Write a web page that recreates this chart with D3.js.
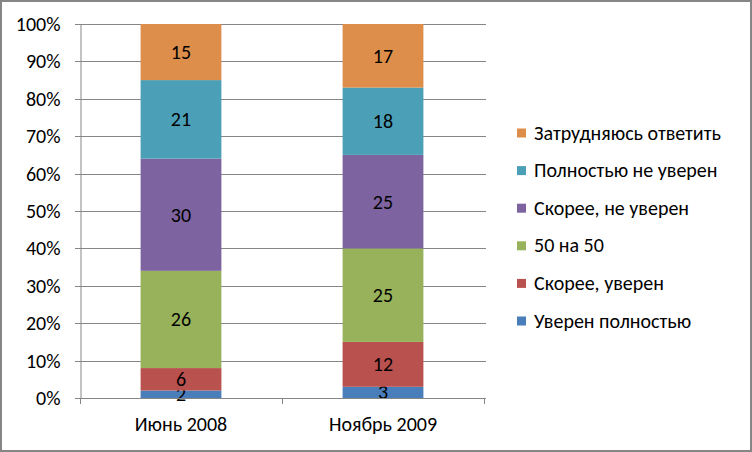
<!DOCTYPE html>
<html>
<head>
<meta charset="utf-8">
<script src="https://cdn.jsdelivr.net/npm/d3@7"></script>
<style>
  body { margin: 0; background: #fff; }
  svg text { font-family: Carlito, "Open Sans", "Liberation Sans", sans-serif; fill: #000; }
</style>
</head>
<body>
<svg id="chart" width="752" height="452"></svg>
<script>
const periods = ['Июнь 2008', 'Ноябрь 2009']
const seriesNames = ['Уверен полностью', 'Скорее, уверен', '50 на 50', 'Скорее, не уверен', 'Полностью не уверен', 'Затрудняюсь ответить']
const june2008 = [2, 6, 26, 30, 21, 15]
const nov2009 = [3, 12, 25, 25, 18, 17]
const yTicks = [0, 0.1, 0.2, 0.3, 0.4, 0.5, 0.6, 0.7, 0.8, 0.9, 1]
const colors = ['#4a7ebb', '#b9514f', '#97b25a', '#7d64a0', '#4ba0b7', '#dd8e4a']

const fontSize = 20

const svg = d3.select('#chart')

svg.append('rect')
    .attr('x', 1).attr('y', 1)
    .attr('width', 750).attr('height', 450)
    .attr('fill', '#fff')
    .attr('stroke', '#868686')
    .attr('stroke-width', 2)

const plot = { left: 80, right: 484, top: 24, bottom: 398 }

const x = d3.scaleBand()
    .domain(periods)
    .range([plot.left, plot.right])
    .paddingInner(0.6)
    .paddingOuter(0.3)

const y = d3.scaleLinear().domain([0, 1]).range([plot.bottom, plot.top])

// gridlines
svg.append('g')
    .selectAll('line')
    .data(yTicks)
  .enter().append('line')
    .attr('x1', plot.left - 5)
    .attr('x2', plot.right + 2)
    .attr('y1', d => Math.round(y(d)) + 0.5)
    .attr('y2', d => Math.round(y(d)) + 0.5)
    .attr('stroke', '#868686')

const yAxis = d3.axisLeft(y).tickValues(yTicks).tickFormat(d3.format('.0%')).tickSize(0).tickPadding(20)
svg.append('g')
    .attr('transform', `translate(${plot.left + 0.5},0)`)
    .call(yAxis)
    .call(g => g.select('.domain').attr('stroke', '#868686'))
    .call(g => g.selectAll('text').attr('font-size', fontSize).attr('font-family', null))

const rows = periods.map((p, i) => {
  const vals = i === 0 ? june2008 : nov2009
  const total = d3.sum(vals)
  const row = { period: p }
  seriesNames.forEach((s, j) => { row[s] = vals[j] / total; row[s + '_raw'] = vals[j] })
  return row
})

const stacked = d3.stack().keys(seriesNames)(rows)

const layers = svg.append('g').selectAll('g')
    .data(stacked)
  .enter().append('g')
    .attr('fill', (d, i) => colors[i])

layers.selectAll('rect')
    .data(d => d.map(v => Object.assign(v, { key: d.key })))
  .enter().append('rect')
    .attr('x', d => x(d.data.period))
    .attr('width', x.bandwidth())
    .attr('y', d => y(d[1]))
    .attr('height', d => y(d[0]) - y(d[1]))

// x axis
const xEdge = d3.scaleLinear().domain([0, 2]).range([plot.left, plot.right])
svg.append('line')
    .attr('x1', plot.left).attr('x2', plot.right + 1)
    .attr('y1', plot.bottom + 0.5).attr('y2', plot.bottom + 0.5)
    .attr('stroke', '#868686')
svg.append('g').selectAll('line')
    .data([0, 1, 2])
  .enter().append('line')
    .attr('x1', d => Math.round(xEdge(d)) + 0.5)
    .attr('x2', d => Math.round(xEdge(d)) + 0.5)
    .attr('y1', plot.bottom)
    .attr('y2', plot.bottom + 6)
    .attr('stroke', '#868686')

svg.append('g').selectAll('text')
    .data(periods)
  .enter().append('text')
    .attr('x', d => x(d) + x.bandwidth() / 2)
    .attr('y', 431)
    .attr('text-anchor', 'middle')
    .attr('font-size', fontSize)
    .text(d => d)

// data labels
layers.selectAll('text')
    .data(d => d)
  .enter().append('text')
    .attr('x', d => x(d.data.period) + x.bandwidth() / 2)
    .attr('y', d => (y(d[0]) + y(d[1])) / 2 + 7)
    .attr('text-anchor', 'middle')
    .attr('font-size', fontSize)
    .style('fill', '#000')
    .text(d => d.data[d.key + '_raw'])

// legend
const legend = svg.append('g').selectAll('g')
    .data(seriesNames.slice().reverse())
  .enter().append('g')
    .attr('transform', (d, i) => `translate(517,${132.5 + i * 37.6})`)

legend.append('rect')
    .attr('x', 0).attr('y', -4)
    .attr('width', 9).attr('height', 9)
    .attr('fill', d => colors[seriesNames.indexOf(d)])

legend.append('text')
    .attr('x', 17)
    .attr('y', 7)
    .attr('font-size', fontSize)
    .text(d => d)
</script>
</body>
</html>
